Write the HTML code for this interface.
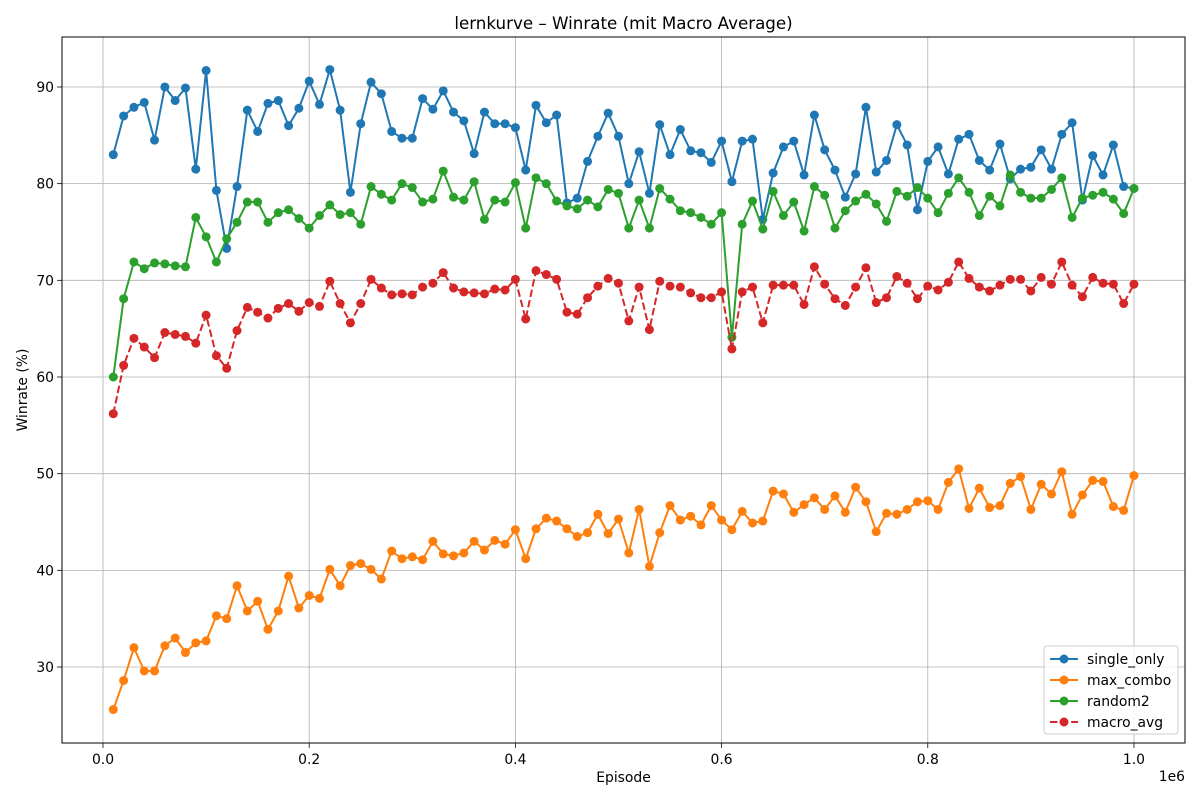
<!DOCTYPE html>
<html><head><meta charset="utf-8"><style>
body{margin:0;background:#fff;}
svg{display:block;font-family:"DejaVu Sans","Liberation Sans",sans-serif;}
</style></head><body>
<svg id="chart" width="1200" height="800" viewBox="0 0 1200 800" xmlns="http://www.w3.org/2000/svg">
<rect width="1200" height="800" fill="#fff"/>
<text x="623.5" y="29" text-anchor="middle" font-size="16.7">lernkurve – Winrate (mit Macro Average)</text>
<g id="grid"></g>
<g id="series"></g>
<rect x="62" y="37" width="1123" height="706" fill="none" stroke="#000" stroke-width="1"/>
<g id="ticks"></g>
<text x="623.5" y="782" text-anchor="middle" font-size="13.9">Episode</text>
<text transform="translate(27,390) rotate(-90)" text-anchor="middle" font-size="13.9">Winrate (%)</text>
<text x="1185" y="781" text-anchor="end" font-size="13.9">1e6</text>
<g id="legend"></g>
</svg>
<script>
const singleOnly=[83.0,87,87.9,88.4,84.5,90,88.6,89.9,81.5,91.7,79.3,73.3,79.7,87.6,85.4,88.3,88.6,86.0,87.8,90.6,88.2,91.8,87.6,79.1,86.2,90.5,89.3,85.4,84.7,84.7,88.8,87.7,89.6,87.4,86.5,83.1,87.4,86.2,86.2,85.8,81.4,88.1,86.3,87.1,78.0,78.5,82.3,84.9,87.3,84.9,80.0,83.3,79.0,86.1,83.0,85.6,83.4,83.2,82.2,84.4,80.2,84.4,84.6,76.3,81.1,83.8,84.4,80.9,87.1,83.5,81.4,78.6,81.0,87.9,81.2,82.4,86.1,84.0,77.3,82.3,83.8,81.0,84.6,85.1,82.4,81.4,84.1,80.5,81.5,81.7,83.5,81.5,85.1,86.3,78.3,82.9,80.9,84.0,79.7,79.5];
const maxCombo=[25.6,28.6,32.0,29.6,29.6,32.2,33.0,31.5,32.5,32.7,35.3,35.0,38.4,35.8,36.8,33.9,35.8,39.4,36.1,37.4,37.1,40.1,38.4,40.5,40.7,40.1,39.1,42.0,41.2,41.4,41.1,43.0,41.7,41.5,41.8,43.0,42.1,43.1,42.7,44.2,41.2,44.3,45.4,45.1,44.3,43.5,43.9,45.8,43.8,45.3,41.8,46.3,40.4,43.9,46.7,45.2,45.6,44.7,46.7,45.2,44.2,46.1,44.9,45.1,48.2,47.9,46.0,46.8,47.5,46.3,47.7,46.0,48.6,47.1,44.0,45.9,45.8,46.3,47.1,47.2,46.3,49.1,50.5,46.4,48.5,46.5,46.7,49.0,49.7,46.3,48.9,47.9,50.2,45.8,47.8,49.3,49.2,46.6,46.2,49.8];
const random2=[60.0,68.1,71.9,71.2,71.8,71.7,71.5,71.4,76.5,74.5,71.9,74.3,76.0,78.1,78.1,76.0,77.0,77.3,76.4,75.4,76.7,77.8,76.8,77.0,75.8,79.7,78.9,78.3,80.0,79.6,78.1,78.4,81.3,78.6,78.3,80.2,76.3,78.3,78.1,80.1,75.4,80.6,80.0,78.2,77.7,77.4,78.3,77.6,79.4,79.0,75.4,78.3,75.4,79.5,78.4,77.2,77.0,76.5,75.8,77.0,64.1,75.8,78.2,75.3,79.2,76.7,78.1,75.1,79.7,78.8,75.4,77.2,78.2,78.9,77.9,76.1,79.2,78.7,79.6,78.5,77.0,79.0,80.6,79.1,76.7,78.7,77.7,80.9,79.1,78.5,78.5,79.4,80.6,76.5,78.5,78.8,79.1,78.4,76.9,79.5];
const macroAvg=[56.2,61.2,64.0,63.1,62.0,64.6,64.4,64.2,63.5,66.4,62.2,60.9,64.8,67.2,66.7,66.1,67.1,67.6,66.8,67.7,67.3,69.9,67.6,65.6,67.6,70.1,69.2,68.5,68.6,68.5,69.3,69.7,70.8,69.2,68.8,68.7,68.6,69.1,69.0,70.1,66.0,71.0,70.6,70.1,66.7,66.5,68.2,69.4,70.2,69.7,65.8,69.3,64.9,69.9,69.4,69.3,68.7,68.2,68.2,68.8,62.9,68.8,69.3,65.6,69.5,69.5,69.5,67.5,71.4,69.6,68.1,67.4,69.3,71.3,67.7,68.2,70.4,69.7,68.1,69.4,69.0,69.8,71.9,70.2,69.3,68.9,69.5,70.1,70.1,68.9,70.3,69.6,71.9,69.5,68.3,70.3,69.7,69.6,67.6,69.6];
const episodeStep=10000;
const xTicks=[0,0.2,0.4,0.6,0.8,1.0];
const yTicks=[30,40,50,60,70,80,90];
const seriesNames=["single_only","max_combo","random2","macro_avg"];

const NS="http://www.w3.org/2000/svg";
const X0=62,X1=1185,Y0=37,Y1=743;
const xMin=-39770,xMax=1049500,yMin=22.14,yMax=95.17;
const xs=v=>X0+(v-xMin)/(xMax-xMin)*(X1-X0);
const ys=v=>Y1-(v-yMin)/(yMax-yMin)*(Y1-Y0);
function mk(tag,attrs,parent){const e=document.createElementNS(NS,tag);for(const k in attrs)e.setAttribute(k,attrs[k]);parent.appendChild(e);return e;}
const grid=document.getElementById('grid'),ticks=document.getElementById('ticks');
xTicks.forEach(t=>{const x=xs(t*1e6);
 const g=mk('line',{x1:x,x2:x,y1:Y0,y2:Y1,stroke:'#b0b0b0','stroke-width':0.8},grid);
 
 
 mk('line',{x1:x,x2:x,y1:Y1,y2:Y1+4.9,stroke:'#000','stroke-width':0.8},ticks);
 const tx=mk('text',{x:x,y:Y1+21,'text-anchor':'middle','font-size':13.9},ticks);
 tx.textContent=t===0?'0.0':t.toFixed(1);
 
 
});
yTicks.forEach(t=>{const y=ys(t);
 const g=mk('line',{x1:X0,x2:X1,y1:y,y2:y,stroke:'#b0b0b0','stroke-width':0.8},grid);
 
 
 mk('line',{x1:X0-4.9,x2:X0,y1:y,y2:y,stroke:'#000','stroke-width':0.8},ticks);
 const tx=mk('text',{x:X0-8,y:y+5,'text-anchor':'end','font-size':13.9},ticks);
 tx.textContent=t;
 
 
});
const colors=['#1f77b4','#ff7f0e','#2ca02c','#d62728'];
const data=[singleOnly,maxCombo,random2,macroAvg];
const ser=document.getElementById('series');
data.forEach((arr,si)=>{
 const g=mk('g',{},ser);
 
 
 const pts=arr.map((v,i)=>xs((i+1)*episodeStep).toFixed(2)+','+ys(v).toFixed(2)).join(' ');
 const pl=mk('polyline',{points:pts,fill:'none',stroke:colors[si],'stroke-width':2,'stroke-linejoin':'round'},g);
 if(si===3)pl.setAttribute('stroke-dasharray','7.4,3.2');
 
 
 arr.forEach((v,i)=>{
  const c=mk('circle',{cx:xs((i+1)*episodeStep),cy:ys(v),r:4.5,fill:colors[si]},g);
  
  
 });
});
const lg=document.getElementById('legend');


mk('rect',{x:1044,y:646,width:134,height:88,rx:3,fill:'#fff','fill-opacity':0.8,stroke:'#ccc'},lg);
seriesNames.forEach((n,i)=>{
 const y=659+i*21;
 const e=mk('g',{},lg);
 
 
 const l=mk('line',{x1:1050,x2:1078,y1:y,y2:y,stroke:colors[i],'stroke-width':2},e);
 if(i===3)l.setAttribute('stroke-dasharray','7.4,3.2');
 mk('circle',{cx:1064,cy:y,r:4.5,fill:colors[i]},e);
 const t=mk('text',{x:1087,y:y+5,'font-size':13.9},e);
 t.textContent=n;
});
</script>
</body></html>
